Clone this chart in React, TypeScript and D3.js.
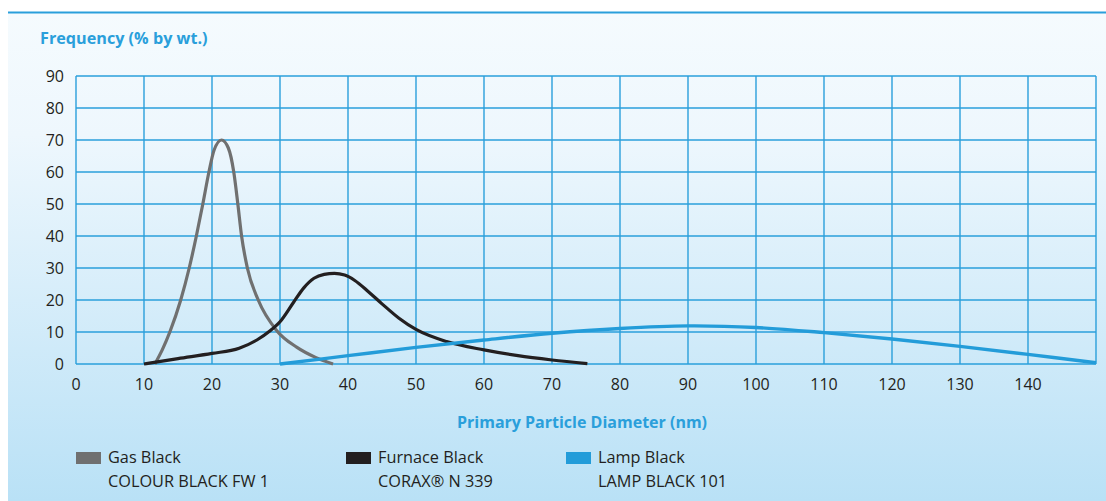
import React from "react";
import * as d3 from "d3";

const xTicks = [0, 10, 20, 30, 40, 50, 60, 70, 80, 90, 100, 110, 120, 130, 140];
const yTicks = [0, 10, 20, 30, 40, 50, 60, 70, 80, 90];

const gasBlackX = [11.6, 12.7, 13.8, 15.4, 16.65, 17.7, 18.65, 19.55, 20.3, 21.4, 22.4, 23.2, 23.8, 24.35, 25.2, 26.8, 29.5, 32.5, 35.3, 37.8];
const gasBlackY = [0, 4.5, 10, 20, 30, 40, 50, 60, 66.8, 70, 67.5, 60, 50, 40, 30, 20, 10.5, 5.2, 2, 0];

const furnaceX = [10, 15, 20, 24, 26.6, 28.5, 30, 32, 33.5, 35, 36.5, 38, 39.5, 41, 43, 45, 47.5, 50, 54.5, 60, 65, 70, 75.2];
const furnaceY = [0, 1.7, 3.3, 4.9, 7.5, 10.3, 13.2, 19.3, 23.8, 26.8, 28, 28.3, 27.8, 26.1, 22.6, 18.8, 14.3, 10.8, 7, 4.4, 2.6, 1.25, 0.1];

const lampX = [30, 40, 50, 60, 70, 80, 90, 100, 110, 120, 130, 140, 150];
const lampY = [0, 2.6, 5.2, 7.5, 9.6, 11.1, 11.9, 11.4, 9.8, 7.8, 5.5, 3.0, 0.4];

const legendNames = ["Gas Black", "Furnace Black", "Lamp Black"];
const legendProducts = ["COLOUR BLACK FW 1", "CORAX® N 339", "LAMP BLACK 101"];
const seriesColors = ["#707070", "#231f20", "#239cd9"];

const W = 1106;
const H = 501;
const BLUE = "#2a9fdb";
const FONT = "'Open Sans', 'Noto Sans', sans-serif";

export default function App() {
  const x = d3.scaleLinear().domain([0, 150]).range([76, 1096]);
  const y = d3.scaleLinear().domain([0, 90]).range([364, 76]);

  const line = d3
    .line<[number, number]>()
    .x((d) => x(d[0]))
    .y((d) => y(d[1]))
    .curve(d3.curveMonotoneX);

  const lampLine = d3
    .line<[number, number]>()
    .x((d) => x(d[0]))
    .y((d) => y(d[1]))
    .curve(d3.curveCatmullRom.alpha(0.5));

  const series = [
    gasBlackX.map((v, i) => [v, gasBlackY[i]] as [number, number]),
    furnaceX.map((v, i) => [v, furnaceY[i]] as [number, number]),
    lampX.map((v, i) => [v, lampY[i]] as [number, number]),
  ];
  const widths = [3.2, 3.2, 3.4];
  const legendX = [76, 346, 566];

  return (
    <svg
      width={W}
      height={H}
      style={{ position: "absolute", left: 0, top: 0 }}
      fontFamily={FONT}
    >
      <defs>
        <linearGradient id="bg" x1="0" y1="0" x2="0" y2="1">
          <stop offset="0%" stopColor="#f5fbfe" />
          <stop offset="25%" stopColor="#eef7fd" />
          <stop offset="100%" stopColor="#b9e1f6" />
        </linearGradient>
      </defs>
      <rect x={0} y={0} width={W} height={H} fill="#ffffff" />
      <rect x={8} y={12} width={W - 8} height={H - 12} fill="url(#bg)" />
      <line x1={8} x2={W} y1={12.5} y2={12.5} stroke={BLUE} strokeWidth={2} />

      <text x={40} y={44} fill={BLUE} fontSize={16.2} fontWeight={700}>
        Frequency (% by wt.)
      </text>

      {/* grid */}
      <g stroke={BLUE} strokeWidth={1.4}>
        {yTicks.map((t) => (
          <line key={"h" + t} x1={x(0)} x2={x(150)} y1={y(t)} y2={y(t)} />
        ))}
        {xTicks.concat([150]).map((t) => (
          <line key={"v" + t} x1={x(t)} x2={x(t)} y1={y(0)} y2={y(90)} />
        ))}
      </g>

      {/* y tick labels */}
      {yTicks.map((t) => (
        <text
          key={"yl" + t}
          x={64}
          y={y(t) + 6}
          textAnchor="end"
          fontSize={16}
          fill="#231f20"
        >
          {t}
        </text>
      ))}
      {/* x tick labels */}
      {xTicks.map((t) => (
        <text
          key={"xl" + t}
          x={x(t)}
          y={390}
          textAnchor="middle"
          fontSize={16}
          fill="#231f20"
        >
          {t}
        </text>
      ))}

      <text x={582} y={428} textAnchor="middle" fill={BLUE} fontSize={16} fontWeight={700}>
        Primary Particle Diameter (nm)
      </text>

      {/* curves */}
      {series.map((s, i) => (
        <path
          key={"s" + i}
          d={(i === 2 ? lampLine(s) : line(s)) || ""}
          fill="none"
          stroke={seriesColors[i]}
          strokeWidth={widths[i]}
          strokeLinecap="butt"
          strokeLinejoin="round"
        />
      ))}

      {/* legend */}
      {legendNames.map((n, i) => (
        <g key={"lg" + i}>
          <rect x={legendX[i]} y={452} width={25} height={12} fill={seriesColors[i]} />
          <text x={legendX[i] + 32} y={463} fontSize={16.3} fill="#231f20">
            {n}
          </text>
          <text x={legendX[i] + 32} y={487} fontSize={16.3} fill="#231f20">
            {legendProducts[i]}
          </text>
        </g>
      ))}
    </svg>
  );
}
